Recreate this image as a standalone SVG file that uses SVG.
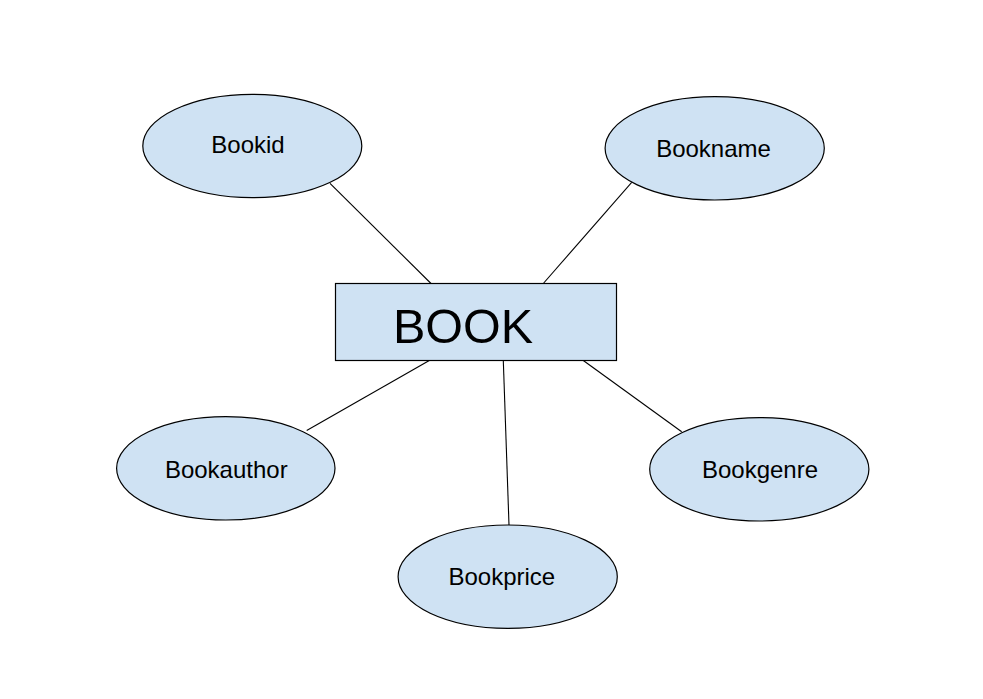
<svg xmlns="http://www.w3.org/2000/svg" width="983" height="699" viewBox="0 0 983 699">
<style>
.shape{fill:#cfe2f3;stroke:#000;stroke-width:1.2}
.lbl{font-family:"Liberation Sans",Arial,sans-serif;font-size:24px;fill:#000;text-anchor:middle}
.big{font-family:"Liberation Sans",Arial,sans-serif;font-size:48.5px;fill:#000;text-anchor:middle}
.conn line{stroke:#000;stroke-width:1.1}
</style>
<rect width="983" height="699" fill="#fff"/>
<g id="connectors" class="conn">
<line x1="330" y1="183.3" x2="431" y2="283.5"/>
<line x1="631.7" y1="182.3" x2="543.3" y2="283.5"/>
<line x1="429.3" y1="360.5" x2="306.7" y2="430.5"/>
<line x1="503.3" y1="360.5" x2="509" y2="525"/>
<line x1="583.3" y1="360.5" x2="681.7" y2="431.7"/>
</g>
<g id="book">
<rect class="shape" x="335.5" y="283.5" width="281" height="77"/>
<text class="big" x="463" y="343">BOOK</text>
</g>
<g id="bookid">
<ellipse class="shape" cx="252.3" cy="146" rx="109.5" ry="51.7"/>
<text class="lbl" x="248" y="152.5">Bookid</text>
</g>
<g id="bookname">
<ellipse class="shape" cx="714.7" cy="148.3" rx="109.6" ry="51.7"/>
<text class="lbl" x="713.5" y="156.8">Bookname</text>
</g>
<g id="bookauthor">
<ellipse class="shape" cx="225.8" cy="468.3" rx="109.2" ry="51.7"/>
<text class="lbl" x="226.3" y="478">Bookauthor</text>
</g>
<g id="bookgenre">
<ellipse class="shape" cx="759.3" cy="469.3" rx="109.6" ry="51.7"/>
<text class="lbl" x="760" y="478.4">Bookgenre</text>
</g>
<g id="bookprice">
<ellipse class="shape" cx="507.7" cy="576.7" rx="109.6" ry="51.7"/>
<text class="lbl" x="501.8" y="584.8">Bookprice</text>
</g>
</svg>
